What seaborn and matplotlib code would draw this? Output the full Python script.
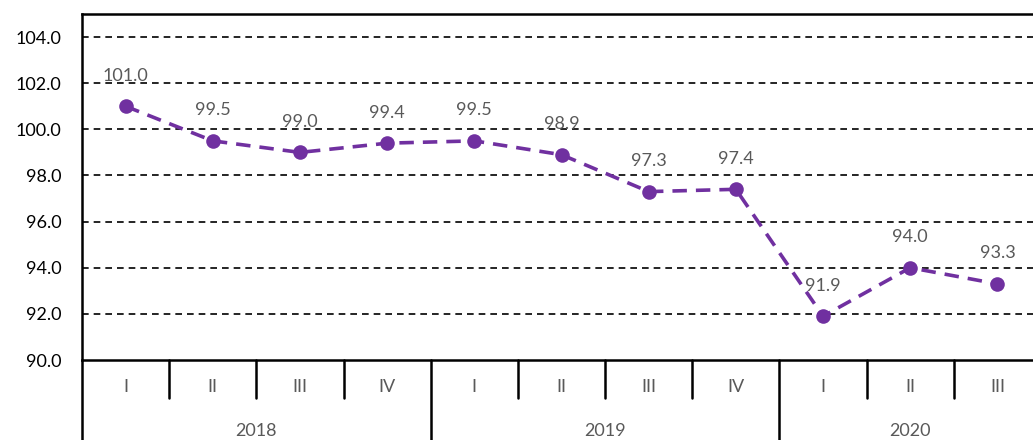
import matplotlib
matplotlib.use("Agg")
import matplotlib.pyplot as plt
import matplotlib.transforms as mtransforms
import seaborn as sns
import pandas as pd
import numpy as np

quarters = ["I", "II", "III", "IV", "I", "II", "III", "IV", "I", "II", "III"]
years = ["2018", "2019", "2020"]
year_counts = [4, 4, 3]
values = [101.0, 99.5, 99.0, 99.4, 99.5, 98.9, 97.3, 97.4, 91.9, 94.0, 93.3]
yticks = [90.0, 92.0, 94.0, 96.0, 98.0, 100.0, 102.0, 104.0]

sns.set_theme(style="white")
plt.rcParams["font.family"] = ["Lato", "DejaVu Sans"]

df = pd.DataFrame({"pos": np.arange(len(values)), "value": values})

fig = plt.figure(figsize=(10.33, 4.40), dpi=100)
ax = fig.add_axes([82 / 1033, 80 / 440, (1041 - 82) / 1033, 346 / 440])

color = "#7030A0"
sns.lineplot(data=df, x="pos", y="value", ax=ax, color=color, linestyle="--",
             linewidth=2.6, marker="o", markersize=10.5, markeredgewidth=0,
             markerfacecolor=color, zorder=5)
ax.lines[0].set_dashes([4, 2.5])

for x, v in zip(df["pos"], df["value"]):
    ax.annotate(f"{v:.1f}", (x, v), xytext=(0, 22), textcoords="offset points",
                ha="center", va="center", fontsize=13, color="#595959", zorder=6)

ax.set_xlim(-0.5, len(values) - 0.5)
ax.set_ylim(90, 105)
ax.set_yticks(yticks)
ax.set_yticklabels([f"{t:.1f}" for t in yticks], fontsize=13, color="black")
for t in yticks[1:]:
    ax.axhline(t, color="black", linestyle=(0, (4, 3)), linewidth=1.2, zorder=1)

ax.set_xticks([])
ax.set_xlabel("")
ax.set_ylabel("")
for s in ["left", "bottom", "top"]:
    ax.spines[s].set_visible(True)
    ax.spines[s].set_color("black")
    ax.spines[s].set_linewidth(1.8)
ax.spines["right"].set_visible(False)
ax.tick_params(axis="y", length=0, pad=15)

trans = mtransforms.blended_transform_factory(ax.transData, ax.transAxes)
# quarter labels and separators
for i, q in enumerate(quarters):
    ax.text(i, -0.078, q, transform=trans, ha="center", va="center",
            fontsize=13, color="#595959", clip_on=False)
bounds = np.cumsum([0] + year_counts)
year_edges = set(bounds.tolist())
for b in range(0, len(values) + 1):
    x = b - 0.5
    if b in year_edges:
        ax.plot([x, x], [0, -0.25], transform=trans, color="black", lw=1.8, clip_on=False)
    else:
        ax.plot([x, x], [0, -0.11], transform=trans, color="black", lw=1.8, clip_on=False)
for y, s, e in zip(years, bounds[:-1], bounds[1:]):
    ax.text((s + e - 1) / 2, -0.205, y, transform=trans, ha="center", va="center",
            fontsize=13, color="#595959", clip_on=False)

fig.savefig("out.png", dpi=100)
